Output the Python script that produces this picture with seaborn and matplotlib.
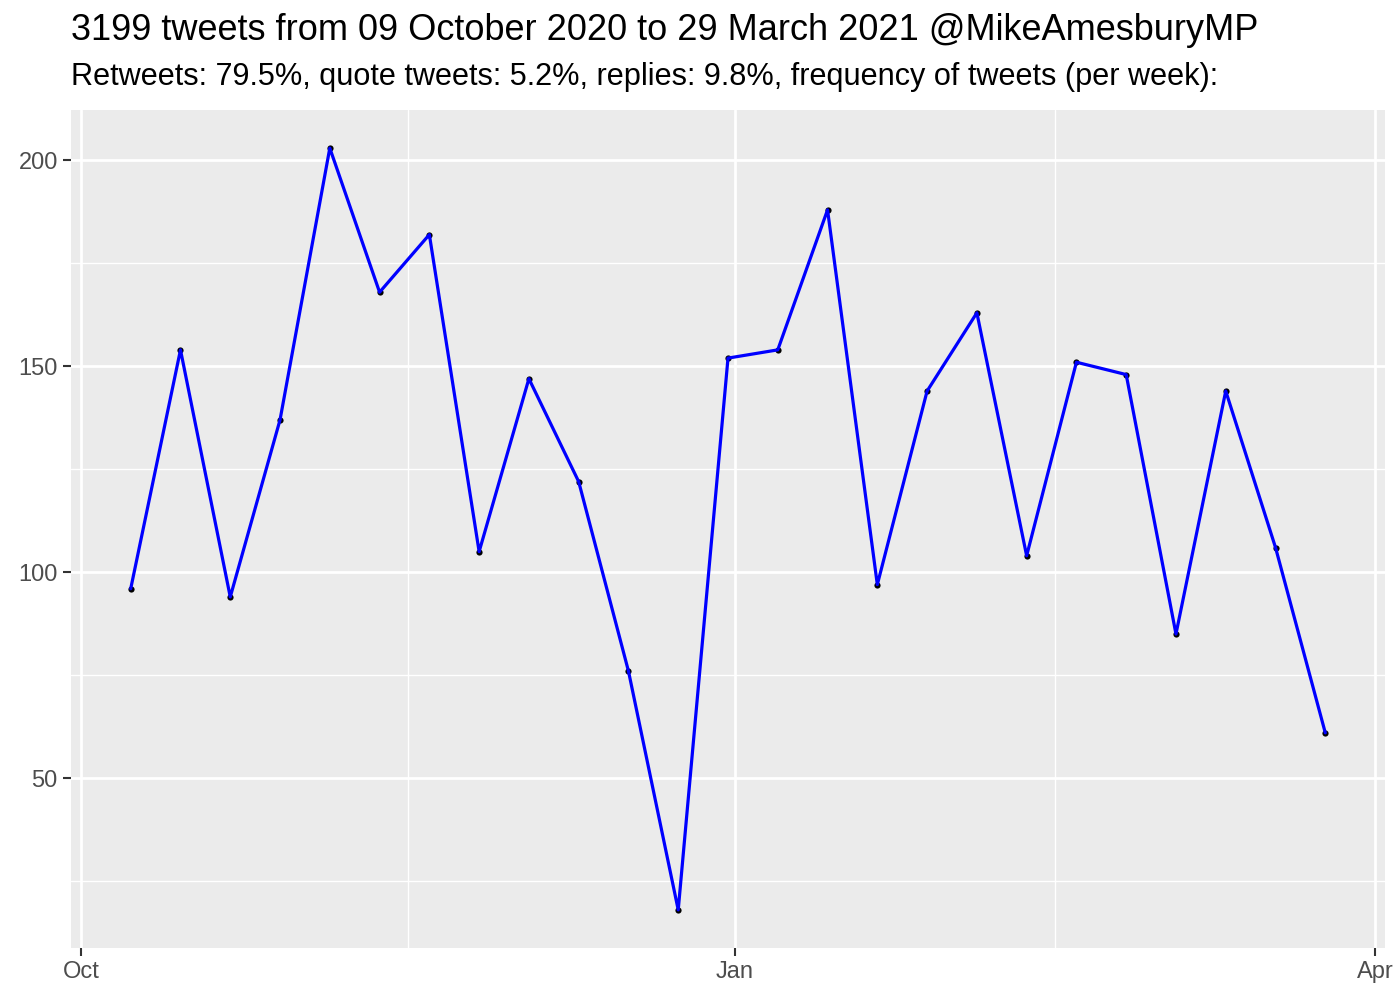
import matplotlib
matplotlib.use('Agg')
import matplotlib.pyplot as plt
import matplotlib.dates as mdates
import seaborn as sns
import pandas as pd

# weekly tweet counts (week starting dates)
weeks = pd.date_range('2020-10-08', periods=25, freq='7D')
counts = [96, 154, 94, 137, 203, 168, 182, 105, 147, 122, 76, 18,
          152, 154, 188, 97, 144, 163, 104, 151, 148, 85, 144, 106, 61]

title = '3199 tweets from 09 October 2020 to 29 March 2021 @MikeAmesburyMP'
subtitle = ('Retweets: 79.5%, quote tweets: 5.2%, replies: 9.8%, '
            'frequency of tweets (per week):')

df = pd.DataFrame({'week': weeks, 'n': counts})

sns.set_theme(style='darkgrid', rc={'axes.facecolor': '#EBEBEB',
                                    'grid.color': 'white'})
plt.rcParams['font.family'] = ['Liberation Sans', 'DejaVu Sans']

fig = plt.figure(figsize=(14, 10), dpi=100)
ax = fig.add_axes([0.0507, 0.052, 0.9386, 0.838])

sns.scatterplot(data=df, x='week', y='n', color='black', s=20,
                edgecolor='black', linewidth=0, ax=ax, zorder=3)
sns.lineplot(data=df, x='week', y='n', color='#0000FF', linewidth=2.3,
             ax=ax, zorder=4)

span = df['week'].max() - df['week'].min()
ax.set_xlim(df['week'].min() - span * 0.05, df['week'].max() + span * 0.05)
rng = max(counts) - min(counts)
ax.set_ylim(min(counts) - rng * 0.05, max(counts) + rng * 0.05)

ax.xaxis.set_major_locator(mdates.MonthLocator(bymonth=[1, 4, 10]))
ax.xaxis.set_major_formatter(mdates.DateFormatter('%b'))
ax.set_xticks(pd.to_datetime(['2020-11-16', '2021-02-15']), minor=True)
ax.set_yticks([50, 100, 150, 200])
ax.set_yticks([25, 75, 125, 175], minor=True)

ax.grid(which='major', color='white', linewidth=2)
ax.grid(which='minor', color='white', linewidth=1)
for s in ax.spines.values():
    s.set_visible(False)

ax.tick_params(which='major', length=5.5, width=1.5, color='#333333',
               labelsize=17, labelcolor='#4D4D4D', pad=4, bottom=True, left=True)
ax.tick_params(which='minor', length=0)
ax.set_xlabel('')
ax.set_ylabel('')

fig.text(0.0507, 0.970, title, fontsize=26, color='black', ha='left', va='center')
fig.text(0.0507, 0.923, subtitle, fontsize=22.1, color='black', ha='left', va='center')

fig.savefig('out.png', dpi=100)
